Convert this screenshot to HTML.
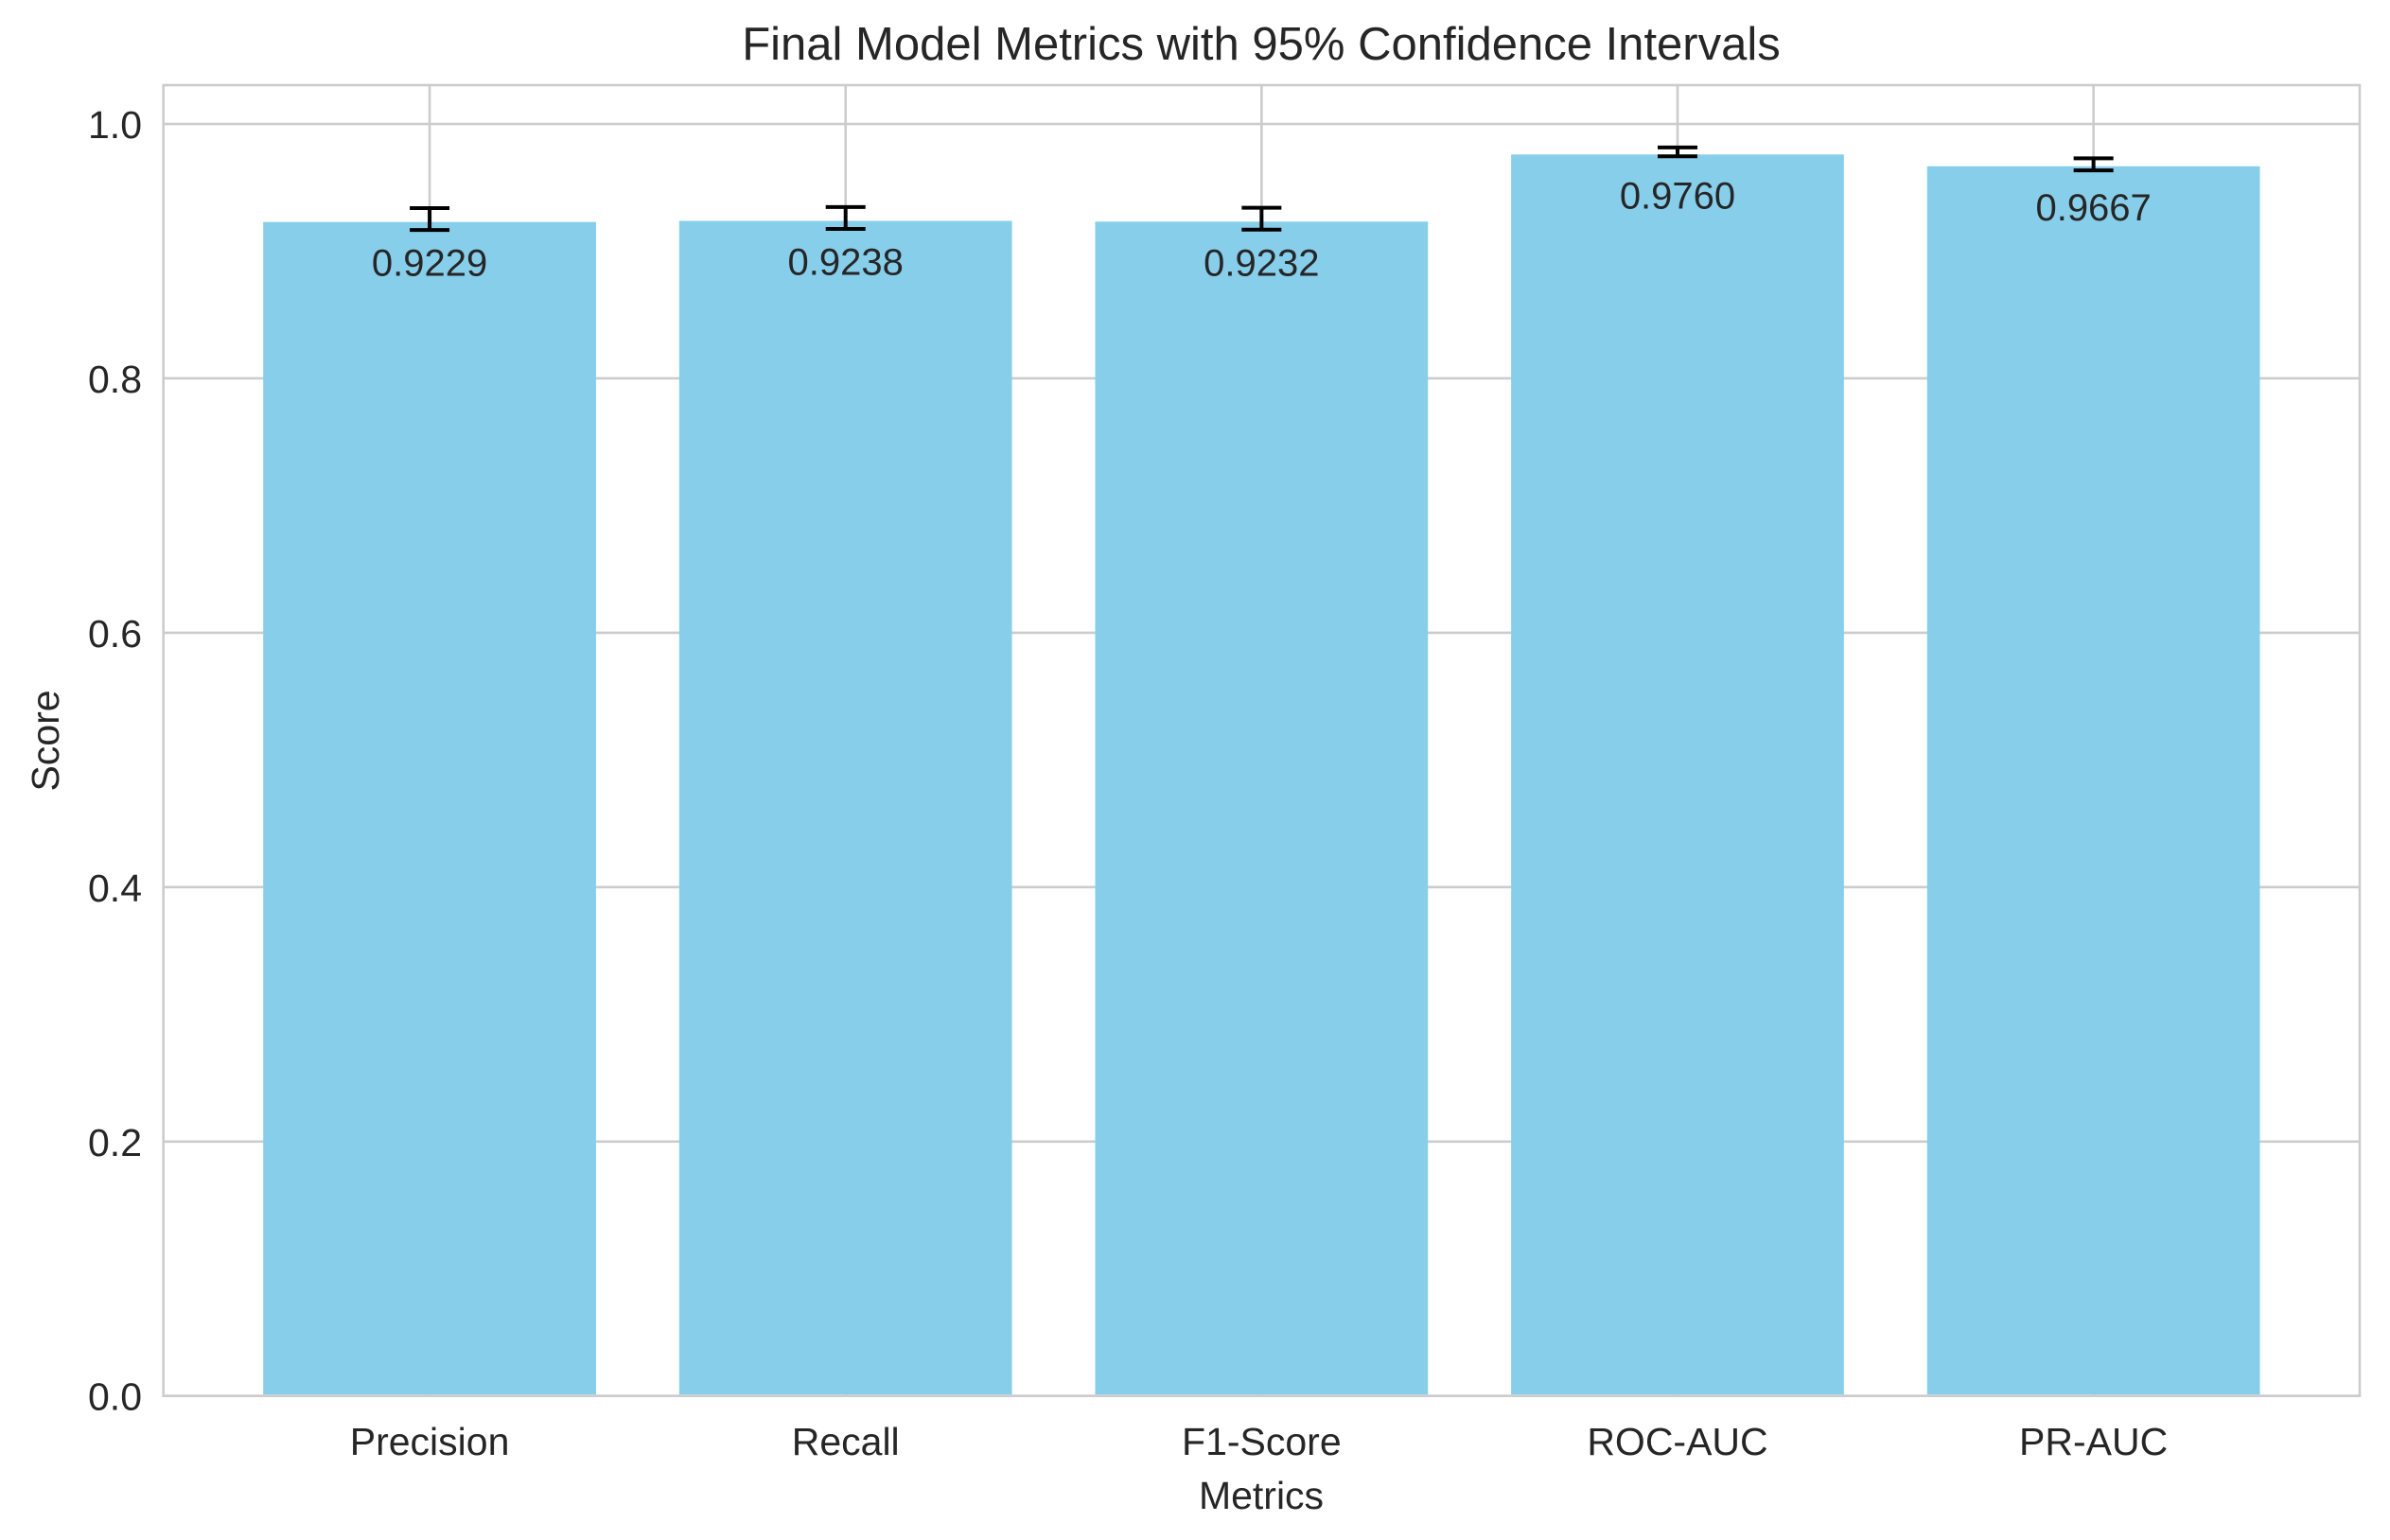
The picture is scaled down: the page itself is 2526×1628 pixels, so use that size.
<!DOCTYPE html>
<html><head><meta charset="utf-8"><style>
body{margin:0;background:#fff}
svg{display:block;font-family:"Liberation Sans",Arial,sans-serif}
</style></head><body>
<svg id="chart" width="2526" height="1628" viewBox="0 0 2526 1628" xmlns="http://www.w3.org/2000/svg">
<rect width="2526" height="1628" fill="#fff"/>
<g id="grid"></g><g id="bars"></g><g id="errs"></g><g id="labels"></g><g id="ticks"></g>
<rect x="172.7" y="90" width="2321.3" height="1385.7" fill="none" stroke="#cccccc" stroke-width="2.6"/>
<text x="1333" y="63" font-size="49" fill="#262626" text-anchor="middle">Final Model Metrics with 95% Confidence Intervals</text>
<text x="1333" y="1595" font-size="41" fill="#262626" text-anchor="middle">Metrics</text>
<text transform="translate(62,783) rotate(-90)" font-size="41" fill="#262626" text-anchor="middle">Score</text>
</svg>
<script>
const categories=["Precision","Recall","F1-Score","ROC-AUC","PR-AUC"];
const values=[0.9229,0.9238,0.9232,0.9760,0.9667];
const ciLower=[0.9166,0.9175,0.9169,0.9745,0.9635];
const ciUpper=[0.9338,0.9347,0.9341,0.9815,0.9730];
const yTicks=[0,0.2,0.4,0.6,0.8,1.0];
const L=172.7,R=2494,T=90,B=1475.7;
const xMin=-0.64,xMax=4.64,yMax=1.0305;
const X=v=>L+(v-xMin)/(xMax-xMin)*(R-L);
const Y=v=>B-v/yMax*(B-T);
const NS="http://www.w3.org/2000/svg";
function mk(tag,attrs,parent){const e=document.createElementNS(NS,tag);for(const k in attrs)e.setAttribute(k,attrs[k]);document.getElementById(parent).appendChild(e);return e;}
yTicks.forEach((t,i)=>{
  const g=mk('line',{x1:L,x2:R,y1:Y(t),y2:Y(t),stroke:'#cccccc','stroke-width':2.6},'grid');
  
  
  const tx=mk('text',{x:150,y:Y(t)+15,'font-size':41,fill:'#262626','text-anchor':'end'},'ticks');
  tx.textContent=t.toFixed(1);
  
  
});
categories.forEach((c,i)=>{
  const cx=X(i);
  const g=mk('line',{x1:cx,x2:cx,y1:T,y2:B,stroke:'#cccccc','stroke-width':2.6},'grid');
  
  
  const w=X(0.4)-X(-0.4);
  const b=mk('rect',{x:cx-w/2,y:Y(values[i]),width:w,height:B-Y(values[i])-1.5,fill:'#87ceeb'},'bars');
  
  
  const eg=mk('g',{stroke:'#000','stroke-width':4},'errs');
  
  
  const yl=Y(ciLower[i]),yu=Y(ciUpper[i]);
  [[cx,yl,cx,yu],[cx-21,yl,cx+21,yl],[cx-21,yu,cx+21,yu]].forEach(p=>{const l=document.createElementNS(NS,'line');l.setAttribute('x1',p[0]);l.setAttribute('y1',p[1]);l.setAttribute('x2',p[2]);l.setAttribute('y2',p[3]);eg.appendChild(l);});
  const lb=mk('text',{x:cx,y:Y(values[i])+57,'font-size':40,fill:'#262626','text-anchor':'middle'},'labels');
  lb.textContent=values[i].toFixed(4);
  
  
  const xt=mk('text',{x:cx,y:1538,'font-size':41,fill:'#262626','text-anchor':'middle'},'ticks');
  xt.textContent=c;
  
  
});
</script>
</body></html>
